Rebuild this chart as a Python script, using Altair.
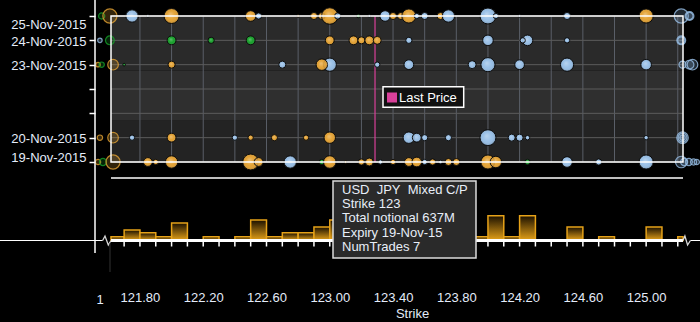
import altair as alt
import pandas as pd

# ---------------- data ----------------
# bubbles per expiry: strike, type (M = Mixed C/P, C = Call, P = Put), total notional (M)
nov25_strike = [121.75, 121.85, 122.00, 122.50, 122.55, 122.80, 122.90, 122.95, 123.00, 123.05,
                123.18, 123.25, 123.35, 123.40, 123.45, 123.50, 123.55, 123.60, 123.70, 123.75,
                124.00, 124.05, 124.20, 124.50, 125.00]
nov25_type = ["C", "C", "M", "M", "C", "M", "M", "M", "M", "C",
              "P", "C", "C", "M", "M", "M", "C", "C", "M", "C",
              "C", "C", "C", "C", "M"]
nov25_notional = [616, 28, 908, 452, 154, 28, 201, 201, 1100, 154,
                  50, 28, 452, 201, 201, 804, 113, 201, 201, 616,
                  1018, 113, 28, 201, 804]

nov24_strike = [122.00, 122.25, 122.50, 123.00, 123.15, 123.20, 123.25, 123.30, 123.50, 124.00,
                124.25, 124.22, 124.50]
nov24_type = ["P", "P", "P", "M", "M", "M", "M", "M", "C", "C", "C", "C", "C"]
nov24_notional = [314, 154, 314, 314, 314, 201, 314, 255, 154, 452, 452, 113, 113]

nov23_strike = [121.70, 122.00, 122.70, 123.00, 122.95, 123.30, 123.50, 123.90, 124.00, 124.20,
                124.50, 125.00]
nov23_type = ["P", "M", "C", "C", "M", "C", "C", "C", "C", "C", "C", "C"]
nov23_notional = [28, 201, 201, 707, 531, 113, 380, 255, 804, 380, 707, 452]

nov20_strike = [121.75, 122.00, 122.40, 122.50, 122.65, 122.85, 123.00, 123.50, 123.55, 123.60,
                123.75, 124.00, 124.15, 124.20, 124.25, 125.00]
nov20_type = ["C", "M", "C", "M", "M", "M", "M", "C", "C", "C",
              "C", "C", "C", "C", "C", "C"]
nov20_notional = [113, 314, 113, 113, 154, 113, 531, 531, 314, 154,
                  154, 1018, 201, 201, 79, 79]

nov19_strike = [121.85, 121.90, 122.00, 122.50, 122.55, 122.75, 122.95, 123.00, 123.10, 123.20,
                123.25, 123.32, 123.40, 123.50, 123.55, 123.60, 123.65, 123.70, 123.75, 123.80,
                124.00, 124.05, 124.25, 124.50, 124.70, 125.00]
nov19_type = ["M", "M", "M", "M", "M", "C", "P", "M", "M", "M",
              "M", "C", "M", "M", "M", "C", "M", "C", "M", "M",
              "M", "M", "P", "C", "C", "C"]
nov19_notional = [314, 113, 616, 1018, 314, 616, 113, 637, 28, 154,
                  255, 79, 113, 314, 380, 113, 154, 50, 201, 201,
                  804, 531, 113, 452, 154, 804]

# trades outside the visible strike window (drawn at the edges)
edge_date = ["2015-11-25", "2015-11-25", "2015-11-24", "2015-11-24", "2015-11-23", "2015-11-23",
             "2015-11-23", "2015-11-20", "2015-11-20", "2015-11-19", "2015-11-19", "2015-11-19",
             "2015-11-25", "2015-11-25", "2015-11-25", "2015-11-24", "2015-11-24", "2015-11-23",
             "2015-11-23", "2015-11-23", "2015-11-20", "2015-11-20", "2015-11-20", "2015-11-19",
             "2015-11-19", "2015-11-19", "2015-11-19", "2015-11-19"]
edge_strike = [121.558, 121.61, 121.547, 121.61, 121.535, 121.558, 121.63, 121.547, 121.63,
               121.535, 121.566, 121.63,
               125.222, 125.274, 125.274, 125.222, 125.222, 125.23, 125.274, 125.293,
               125.23, 125.23, 125.23, 125.222, 125.24, 125.27, 125.30, 125.32]
edge_type = ["P", "M", "C", "P", "M", "P", "M", "M", "M", "M", "P", "M",
             "C", "C", "C", "C", "C", "C", "C", "C", "C", "C", "C", "C", "C", "C", "C", "C"]
edge_notional = [154, 804, 79, 314, 79, 113, 452, 113, 452, 113, 201, 804,
                 804, 314, 201, 314, 201, 201, 314, 452, 531, 314, 113, 531, 201, 201, 154, 113]

# histogram of total notional by strike bucket (M)
bar_lo = [121.617, 121.7, 121.8, 121.9, 122.0, 122.2, 122.4, 122.5, 122.6, 122.7, 122.8, 122.9,
          123.0, 123.1, 123.2, 123.3, 123.4, 123.5, 123.6, 123.7, 123.8, 123.9, 124.0, 124.1,
          124.2, 124.5, 124.7, 125.0, 125.2]
bar_hi = [121.7, 121.8, 121.9, 122.0, 122.1, 122.3, 122.5, 122.6, 122.7, 122.8, 122.9, 123.0,
          123.1, 123.2, 123.3, 123.4, 123.5, 123.6, 123.7, 123.8, 123.9, 124.0, 124.1, 124.2,
          124.3, 124.6, 124.8, 125.1, 125.233]
bar_notional = [115, 325, 240, 115, 545, 115, 115, 637, 115, 240, 240, 420,
                637, 240, 420, 325, 240, 545, 240, 325, 240, 115, 770, 115,
                770, 420, 115, 420, 115]

last_price = [123.286]
x_labels = [121.8, 122.2, 122.6, 123.0, 123.4, 123.8, 124.2, 124.6, 125.0]
grid_strikes = [round(121.8 + 0.2 * i, 1) for i in range(18)]
hist_ticks = [round(121.7 + 0.1 * i, 1) for i in range(36)]
tooltip_lines = ["USD\u00a0\u00a0JPY\u00a0\u00a0Mixed C/P", "Strike 123", "Total notional 637M",
                 "Expiry 19-Nov-15", "NumTrades 7"]
# break marks on the histogram baseline
zig_left_strike = [121.564, 121.579, 121.600, 121.617]
zig_right_strike = [125.233, 125.245, 125.262, 125.28]
zig_notional = [0, 140, -140, 0]

# ---------------- tables ----------------
rows = []
for d, s, t, n in [("2015-11-25", nov25_strike, nov25_type, nov25_notional),
                   ("2015-11-24", nov24_strike, nov24_type, nov24_notional),
                   ("2015-11-23", nov23_strike, nov23_type, nov23_notional),
                   ("2015-11-20", nov20_strike, nov20_type, nov20_notional),
                   ("2015-11-19", nov19_strike, nov19_type, nov19_notional)]:
    for a, b, c in zip(s, t, n):
        rows.append({"date": d + "T00:00:00", "strike": a, "type": b, "notional": c})
bub = pd.DataFrame(rows)
bub["i"] = range(len(bub))
edge = pd.DataFrame({"date": [d + "T00:00:00" for d in edge_date], "strike": edge_strike,
                     "type": edge_type, "notional": edge_notional})
bars = pd.DataFrame({"lo": bar_lo, "hi": bar_hi, "notional": bar_notional})
bars["base"] = 0
days = pd.DataFrame({"date": ["2015-11-%02dT00:00:00" % d for d in range(19, 26)]})
grid = pd.DataFrame({"strike": grid_strikes})
ticks = pd.DataFrame({"strike": hist_ticks})
lp = pd.DataFrame({"strike": last_price})
zl = pd.DataFrame({"strike": zig_left_strike, "notional": zig_notional})
zr = pd.DataFrame({"strike": zig_right_strike, "notional": zig_notional})
one = pd.DataFrame({"k": [0]})

# ---------------- styles ----------------
FONT = "Liberation Sans"
TXT = "#e4ecfa"
ORANGE, BLUE, GREEN = "#e4a233", "#98bfe6", "#17a02a"
PINK = "#d9409a"

def day(d):
    return alt.DateTime(year=2015, month=11, date=d)

xscale = alt.Scale(domain=[121.617, 125.233], range=[16, 588], nice=False, zero=False)
xaxis = alt.Axis(values=x_labels, format=".2f", domain=False, ticks=False, tickSize=0, grid=False,
                 labelColor=TXT, labelFont=FONT, labelFontSize=13, labelPadding=3,
                 title="Strike", titleColor=TXT, titleFont=FONT, titleFontSize=13,
                 titleFontWeight="normal", titleX=317, titlePadding=3)
yscale = alt.Scale(type="time", domain=[day(19), day(25)], range=[162, 16], nice=False)
yaxis = alt.Axis(orient="left", values=[day(d) for d in range(19, 26)],
                 labelExpr="date(datum.value) == 21 || date(datum.value) == 22 ? '' : timeFormat(datum.value, '%d-%b-%Y')",
                 domain=False, grid=False, tickColor="white", tickWidth=1.5, tickSize=6,
                 labelColor=TXT, labelFont=FONT, labelFontSize=13, labelPadding=3,
                 labelFlush=False,
                 labelOffset={"condition": [{"test": "date(datum.value) == 25", "value": 8.5},
                                            {"test": "date(datum.value) == 19", "value": -5}],
                              "value": 1},
                 title=None)
nscale = alt.Scale(domain=[0, 2000], range=[240.5, 176.5], nice=False, zero=False)
sscale = alt.Scale(type="linear", domain=[0, 1000], range=[0, 250])
cscale = alt.Scale(domain=["M", "C", "P"], range=[ORANGE, BLUE, GREEN])

X = alt.X("strike:Q", scale=xscale, axis=xaxis)
YD = alt.Y("date:T", scale=yscale, axis=None)


def box(x, x2, y, y2, **kw):
    return alt.Chart(one).mark_rect(**kw).encode(
        x=alt.value(x), x2=alt.value(x2), y=alt.value(y), y2=alt.value(y2))


layers = []
# plot background bands
layers.append(box(16, 588, 16, 70.7, fill="#2a2a2a"))
layers.append(box(16, 588, 70.7, 120.7, fill="#2f2f2f"))
layers.append(box(16, 588, 120.7, 162, fill="#232323"))
# grid lines
layers.append(alt.Chart(grid).mark_rule(color="#5a5f68", strokeWidth=1).encode(
    x=X, y=alt.value(16), y2=alt.value(162)))
layers.append(alt.Chart(days).mark_rule(color="#5c5c5c", strokeWidth=1).encode(
    y=YD, x=alt.value(16), x2=alt.value(588)))
# last price
layers.append(alt.Chart(lp).mark_rule(color=PINK, strokeWidth=1.2).encode(
    x=X, y=alt.value(16), y2=alt.value(162)))
# edge bubbles
layers.append(alt.Chart(edge).mark_point(filled=True, fillOpacity=0.22, strokeOpacity=0.8,
                                         strokeWidth=1.2).encode(
    x=X, y=YD,
    size=alt.Size("notional:Q", scale=sscale, legend=None),
    color=alt.Color("type:N", scale=cscale, legend=None),
    stroke=alt.Stroke("type:N", scale=cscale, legend=None)))
# bubbles
layers.append(alt.Chart(bub).mark_point(filled=True, opacity=1, stroke="#0a0a0a",
                                        strokeWidth=1).encode(
    x=X, y=alt.Y("date:T", scale=yscale, axis=yaxis),
    size=alt.Size("notional:Q", scale=sscale, legend=None),
    color=alt.Color("type:N", scale=cscale, legend=None),
    order=alt.Order("i:Q")))
# soft shading on the bubbles
shine = alt.RadialGradient(gradient="radial", x1=0.42, y1=0.38, r1=0, x2=0.5, y2=0.5, r2=0.5,
                           stops=[alt.GradientStop(color="rgba(255,255,255,0.32)", offset=0),
                                  alt.GradientStop(color="rgba(255,255,255,0)", offset=0.6),
                                  alt.GradientStop(color="rgba(0,0,0,0.22)", offset=1)])
layers.append(alt.Chart(bub).mark_point(filled=True, opacity=1, fill=shine, strokeWidth=0).encode(
    x=X, y=YD, size=alt.Size("notional:Q", scale=sscale, legend=None),
    order=alt.Order("i:Q")))
# plot frame and axis line
layers.append(box(16, 588, 16, 162, fill=None, fillOpacity=0, stroke="white", strokeWidth=1.5))
layers.append(alt.Chart(one).mark_rule(color="white", strokeWidth=1.5).encode(
    x=alt.value(0), y=alt.value(0), y2=alt.value(253)))

# histogram
grad = alt.LinearGradient(gradient="linear", x1=0, x2=0, y1=0, y2=1,
                          stops=[alt.GradientStop(color="#1c1100", offset=0),
                                 alt.GradientStop(color="#e6a218", offset=1)])
layers.append(alt.Chart(bars).mark_bar(fill=grad, stroke="#e6a218", strokeWidth=1.5).encode(
    x=alt.X("lo:Q", scale=xscale, axis=xaxis), x2="hi:Q",
    y=alt.Y("notional:Q", scale=nscale, axis=None), y2="base:Q"))
layers.append(alt.Chart(one).mark_rule(color="white", strokeWidth=1.5).encode(
    x=alt.value(16), x2=alt.value(588), y=alt.value(178)))
layers.append(alt.Chart(ticks).mark_rule(color="white", strokeWidth=1.5).encode(
    x=X, y=alt.value(241), y2=alt.value(246.5)))
layers.append(alt.Chart(pd.DataFrame({"lo": [121.617], "hi": [125.233], "notional": [0]}))
              .mark_rule(color="white", strokeWidth=3).encode(
    x=alt.X("lo:Q", scale=xscale, axis=xaxis), x2="hi:Q",
    y=alt.Y("notional:Q", scale=nscale, axis=None)))
layers.append(alt.Chart(pd.DataFrame({"lo": [120.9, 125.28], "hi": [121.564, 125.4], "notional": [0, 0]}))
              .mark_rule(color="white", strokeWidth=1).encode(
    x=alt.X("lo:Q", scale=xscale, axis=xaxis), x2="hi:Q",
    y=alt.Y("notional:Q", scale=nscale, axis=None)))
for z in (zl, zr):
    layers.append(alt.Chart(z).mark_line(color="#d8d8d8", strokeWidth=1.3).encode(
        x=X, y=alt.Y("notional:Q", scale=nscale, axis=None), order=alt.Order("strike:Q")))
layers.append(alt.Chart(one).mark_rule(color="#333333", strokeWidth=1).encode(
    x=alt.value(15), y=alt.value(243), y2=alt.value(272)))

# legend
layers.append(box(288, 368.7, 86.7, 107.3, fill="#111111", stroke="white", strokeWidth=1.5))
layers.append(box(292, 302, 92.5, 102.5, fill=PINK))
layers.append(alt.Chart(one).mark_text(align="left", baseline="middle", font=FONT, fontSize=13,
                                       color="white").encode(
    x=alt.value(304), y=alt.value(97.5), text=alt.value("Last Price")))

# tooltip
layers.append(box(238, 381, 181, 258, fill="#2a2a2a", stroke="#dcdcdc", strokeWidth=1.5))
layers.append(alt.Chart(one).mark_text(align="left", baseline="top", font=FONT, fontSize=13,
                                       color="#e8eef8", lineHeight=14.2).encode(
    x=alt.value(247), y=alt.value(184), text=alt.value(tooltip_lines)))

layers.append(alt.Chart(one).mark_text(align="center", baseline="middle", font=FONT, fontSize=13,
                                       color=TXT).encode(
    x=alt.value(5), y=alt.value(300), text=alt.value("1")))

chart = alt.layer(*layers).resolve_scale(y="independent").properties(
    width=605, height=288,
    autosize=alt.AutoSizeParams(type="none"),
    padding={"left": 95, "top": 0, "right": 0, "bottom": 34},
    background="black",
).configure_view(stroke=None)

chart.save("out.html", embed_options={"renderer": "svg", "actions": False})
